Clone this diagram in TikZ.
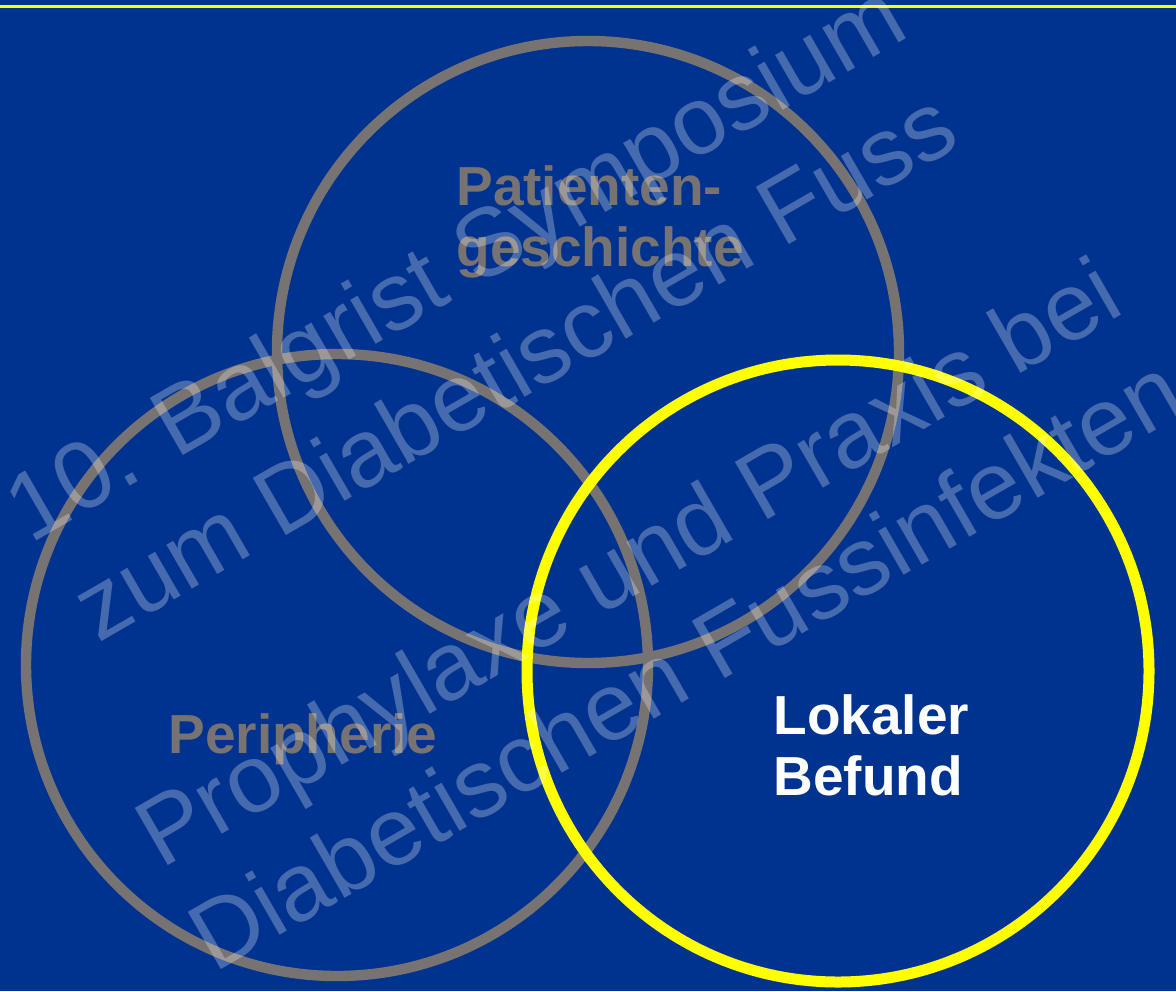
\documentclass[tikz,border=0pt]{standalone}
\usepackage{fontspec}
\setmainfont{Liberation Sans}
\definecolor{slideblue}{RGB}{0,51,144}
\definecolor{ringgray}{RGB}{120,115,115}
\definecolor{ringyellow}{RGB}{255,255,0}
\begin{document}
\begin{tikzpicture}[x=0.5pt,y=-0.5pt,
  ring/.style={circle,draw=ringgray,line width=5.2pt,minimum size=311pt,inner sep=0pt},
  hiring/.style={circle,draw=ringyellow,line width=5.5pt,minimum size=311pt,inner sep=0pt},
  lbl/.style={font=\fontsize{27.5}{30.5}\selectfont\bfseries,align=left,inner sep=0pt,anchor=base west},
  wm/.style={font=\fontsize{48}{58}\selectfont,text=white,text opacity=0.27,rotate=30,anchor=base,inner sep=0pt}]
  % slide background and top rule
  \fill[slideblue] (0,0) rectangle (1176,991);
  \useasboundingbox (0,0) rectangle (1176,991);
  \coordinate (ruleL) at (0,6.3);
  \coordinate (ruleR) at (1176,6.3);
  \draw[ringyellow,line width=1.4pt] (ruleL) -- (ruleR);
  % the three overlapping circles
  \node[ring] (hist) at (588,352) {};
  \node[ring] (peri) at (337,665) {};
  \node[hiring] (lokal) at (838,671) {};
  % circle labels (base anchor sits on the last line)
  \node[lbl,text=ringgray] (histtxt) at (456,266) {Patienten-\\geschichte};
  \node[lbl,text=ringgray] (peritxt) at (168,753) {Peripherie};
  \node[lbl,text=white] (lokaltxt) at (773,795) {Lokaler\\Befund};
  % diagonal event watermark
  \node[wm] (wmA) at (471,290) {10. Balgrist Symposium};
  \node[wm] (wmB) at (531,394) {zum Diabetischen Fuss};
  \node[wm] (wmC) at (644,591) {Prophylaxe und Praxis bei};
  \node[wm] (wmD) at (702,692) {Diabetischen Fussinfekten};
\end{tikzpicture}
\end{document}
